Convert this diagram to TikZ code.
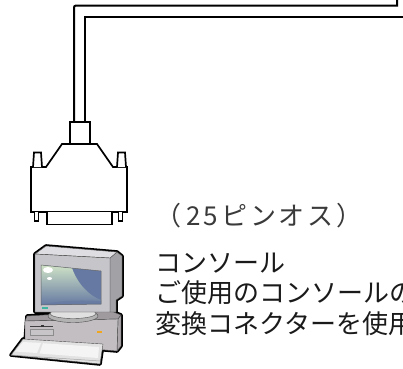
\documentclass[tikz,border=0pt]{standalone}
\usepackage{fontspec}
\newfontfamily\jp{Noto Sans CJK JP}
\newfontfamily\jpwide{Noto Sans CJK JP}[LetterSpace=11]
\definecolor{txtdark}{HTML}{1A1A1A}
\definecolor{txtgray}{HTML}{3A3A3A}
\definecolor{bezel}{HTML}{C6C6CA}
\definecolor{montop}{HTML}{DEDEE2}
\definecolor{monside}{HTML}{A2A2A6}
\definecolor{scrblue}{HTML}{6579A2}
\definecolor{scrlight}{HTML}{CFE2C6}
\definecolor{cpufront}{HTML}{C2BEC2}
\definecolor{cputop}{HTML}{9E9A9E}
\definecolor{cpuside}{HTML}{ABA7AB}
\definecolor{kbd}{HTML}{E2E2E2}
\definecolor{kbdkey}{HTML}{F4F4F4}
\definecolor{ledgreen}{HTML}{3DB5A0}
\definecolor{ledorange}{HTML}{F2A61E}
\tikzset{
  cable/.style={line width=2pt, line join=miter},
  plug/.style={line width=1.7pt, line join=miter, fill=white, draw=black},
  silhouette/.style={draw=black, line width=3.6pt, line join=round, fill=black},
  part/.style={draw=black!70, line width=0.4pt, line join=round},
  pinlabel/.style={anchor=base west, inner sep=0pt, text=txtgray, font=\jpwide\fontsize{26}{31}\selectfont},
  desclabel/.style={anchor=base west, inner sep=0pt, text=txtdark, font=\jp\fontsize{26}{31}\selectfont}
}
\begin{document}
\begin{tikzpicture}[x=1pt,y=-1pt]
\useasboundingbox (0,0) rectangle (403,368);
\clip (0,0) rectangle (403,368);
\fill[white] (0,0) rectangle (403,368);
% cable
\coordinate (cabOutBot) at (74,121);
\coordinate (cabOutTop) at (397,-2);
\coordinate (cabInBot) at (85,121);
\coordinate (cabInEnd) at (405,16.5);
\draw[cable] (cabOutBot) -- (74,10) .. controls (74,5.5) .. (78.5,5.5) -- (397,5.5) -- (cabOutTop);
\draw[cable] (cabInBot) -- (85,16.5) -- (cabInEnd);
% connector
\draw[plug] (70,122) rectangle (90,144);
\draw[plug] (31,212) -- (31,167) -- (46,167) -- (62,144) -- (97,144) -- (113,167) -- (127,167) -- (127,212) -- cycle;
\draw[plug] (33,167) -- (34,152.5) -- (41,152.5) -- (42,167);
\draw[plug] (117,167) -- (118,152.5) -- (125,152.5) -- (126,167);
\draw[plug] (34.5,212) -- (34.5,221) -- (38.5,221) -- (38.5,212);
\draw[plug] (118.5,212) -- (118.5,221) -- (122.5,221) -- (122.5,212);
\draw[plug] (47,212) -- (47,224.5) -- (112,224.5) -- (112,212);
% computer: silhouette
\path[silhouette] (27,316) -- (111,311) -- (121,315) -- (121,346) -- (117,351) -- (25,343) -- cycle;
\path[silhouette] (23,339) -- (103,344) -- (100,364) -- (11,355) -- cycle;
\path[silhouette] (35,254) -- (46,246) -- (117,252) -- (122,256) -- (122,296) -- (116,300) -- (116,312) -- (35,312) -- cycle;
% CPU
\path[part, fill=cputop] (27,316) -- (111,311) -- (121,315) -- (118,319) -- (25,321) -- cycle;
\path[part, fill=cpuside] (118,319) -- (121,315) -- (121,346) -- (117,351) -- cycle;
\path[part, fill=cpufront] (25,321) -- (118,319) -- (117,351) -- (25,343) -- cycle;
\draw[black!75, line width=1pt] (30,326) -- (53,326);
\fill[black!80] (41,324.8) rectangle (43.5,327.2);
\draw[black!45, line width=0.6pt, fill=cpufront!90!white] (30,329) rectangle (53,335.5);
\fill[ledorange] (96.5,330.5) rectangle (102,332.5);
% stand
\path[part, fill=black!30] (73,316) ellipse [x radius=25, y radius=6.5];
\path[part, fill=black!12] (73,313.5) ellipse [x radius=23, y radius=5];
% monitor
\path[part, fill=monside] (110,258) -- (117,252) -- (122,256) -- (122,296) -- (116,300) -- (116,312) -- (110,312) -- cycle;
\path[part, fill=montop] (35,254) -- (46,246) -- (117,252) -- (110,258) -- cycle;
\path[part, fill=bezel] (35,254) -- (110,258) -- (110,312) -- (35,312) -- cycle;
\path[fill=scrblue] (41,265) -- (101,271) -- (101,304) -- (41,305) -- cycle;
\shade[left color=scrlight, right color=scrblue, shading angle=0] (41,265) -- (72,268) .. controls (78,285) and (90,296) .. (101,300) -- (101,304) -- (41,305) -- cycle;
\fill[scrblue, opacity=0.55] (41,305) .. controls (60,300) and (80,300) .. (101,301) -- (101,304) -- cycle;
\draw[black!60, line width=0.5pt] (41,265) -- (101,271) -- (101,304) -- (41,305) -- cycle;
\fill[white] (48,270) ellipse [x radius=5, y radius=3];
\fill[white] (49.5,278.5) ellipse [x radius=2.5, y radius=1.5];
\fill[ledgreen] (41.5,306.5) rectangle (47.5,308.5);
% keyboard
\path[part, fill=kbd] (23,339) -- (103,344) -- (100,364) -- (11,355) -- cycle;
\path[fill=kbdkey] (23,342) -- (41,343) -- (37,353) -- (15,351.5) -- cycle;
\path[fill=kbdkey] (43,343.2) -- (99,347) -- (98,358) -- (39.5,353.5) -- cycle;
\draw[black!35, line width=0.5pt] (11,355) -- (100,361);
% labels
\node[pinlabel] (pins) at (155.5,225) {（\hspace{5pt}25ピンオス）};
\node[desclabel] (desc1) at (155,272) {コンソール};
\node[desclabel] (desc2) at (155,302.5) {ご使用のコンソールの};
\node[desclabel] (desc3) at (155,333) {変換コネクターを使用};
\end{tikzpicture}
\end{document}
